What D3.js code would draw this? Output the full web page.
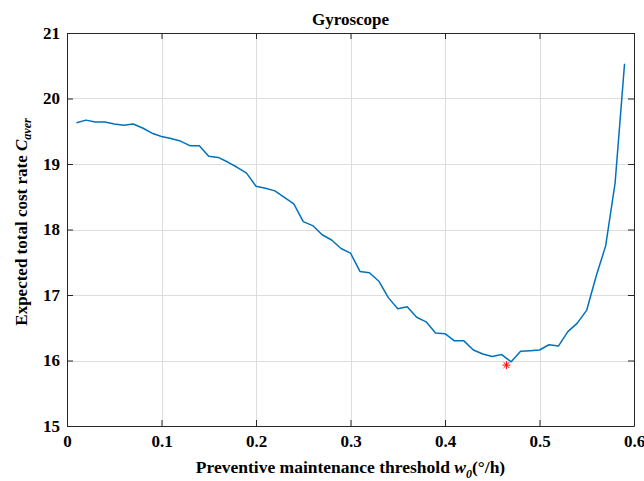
<!DOCTYPE html>
<html>
<head>
<meta charset="utf-8">
<script src="https://cdn.jsdelivr.net/npm/d3@7"></script>
<style>
  html, body { margin: 0; padding: 0; background: #fff; }
  svg { display: block; }
  .tick text { font-family: "Liberation Serif", "Times New Roman", serif; font-weight: bold; }
</style>
</head>
<body>
<svg id="chart" width="644" height="481"></svg>
<script>
// Preventive maintenance threshold w0 (°/h)
const thresholds = [0.01, 0.02, 0.03, 0.04, 0.05, 0.06, 0.07, 0.08, 0.09, 0.10,
                    0.11, 0.12, 0.13, 0.14, 0.15, 0.16, 0.17, 0.18, 0.19, 0.20,
                    0.21, 0.22, 0.23, 0.24, 0.25, 0.26, 0.27, 0.28, 0.29, 0.30,
                    0.31, 0.32, 0.33, 0.34, 0.35, 0.36, 0.37, 0.38, 0.39, 0.40,
                    0.41, 0.42, 0.43, 0.44, 0.45, 0.46, 0.47, 0.48, 0.49, 0.50,
                    0.51, 0.52, 0.53, 0.54, 0.55, 0.56, 0.57, 0.58, 0.59];
// Expected total cost rate C_aver
const costRates = [19.63, 19.67, 19.64, 19.64, 19.61, 19.59, 19.61, 19.55, 19.47, 19.42,
                   19.39, 19.35, 19.28, 19.28, 19.12, 19.10, 19.03, 18.95, 18.86, 18.66,
                   18.63, 18.59, 18.49, 18.39, 18.12, 18.06, 17.92, 17.84, 17.71, 17.64,
                   17.36, 17.34, 17.21, 16.96, 16.79, 16.82, 16.66, 16.59, 16.42, 16.41,
                   16.30, 16.30, 16.16, 16.10, 16.06, 16.09, 15.98, 16.14, 16.15, 16.16,
                   16.24, 16.22, 16.44, 16.57, 16.77, 17.29, 17.75, 18.71, 20.53];
// Optimal threshold marker
const optimumX = [0.465];
const optimumY = [15.93];

const xTicks = [0, 0.1, 0.2, 0.3, 0.4, 0.5, 0.6];
const yTicks = [15, 16, 17, 18, 19, 20, 21];

const svg = d3.select("#chart");
const plotLeft = 67, plotRight = 634, plotTop = 33, plotBottom = 426;
const x = d3.scaleLinear().domain([0, 0.6]).range([plotLeft, plotRight]);
const y = d3.scaleLinear().domain([15, 21]).range([plotBottom, plotTop]);

const axisColor = "#262626";
const gridColor = "#dedede";
const tickFont = 17;

// grid
const grid = svg.append("g");
grid.selectAll("line.gx").data(xTicks.slice(1, -1)).join("line")
  .attr("x1", d => Math.round(x(d)) + 0.5).attr("x2", d => Math.round(x(d)) + 0.5)
  .attr("y1", plotTop).attr("y2", plotBottom)
  .attr("stroke", gridColor).attr("stroke-width", 1);
grid.selectAll("line.gy").data(yTicks.slice(1, -1)).join("line")
  .attr("y1", d => Math.round(y(d)) + 0.5).attr("y2", d => Math.round(y(d)) + 0.5)
  .attr("x1", plotLeft).attr("x2", plotRight)
  .attr("stroke", gridColor).attr("stroke-width", 1);

// axes with inward ticks (box on all sides)
function styleAxis(g) {
  g.select(".domain").attr("stroke", axisColor).attr("stroke-width", 1);
  g.selectAll(".tick line").attr("stroke", axisColor).attr("stroke-width", 1);
  g.selectAll(".tick text").attr("fill", "#000").style("font-size", tickFont + "px");
}
svg.append("g").attr("transform", `translate(0,${plotBottom})`)
  .call(d3.axisBottom(x).tickValues(xTicks).tickSize(-6).tickSizeOuter(0).tickPadding(9).tickFormat(d3.format("")))
  .call(styleAxis);
svg.append("g").attr("transform", `translate(0,${plotTop})`)
  .call(d3.axisTop(x).tickValues(xTicks).tickSize(-6).tickSizeOuter(0).tickFormat(""))
  .call(styleAxis);
svg.append("g").attr("transform", `translate(${plotLeft},0)`)
  .call(d3.axisLeft(y).tickValues(yTicks).tickSize(-6).tickSizeOuter(0).tickPadding(7).tickFormat(d3.format("d")))
  .call(styleAxis);
svg.append("g").attr("transform", `translate(${plotRight},0)`)
  .call(d3.axisRight(y).tickValues(yTicks).tickSize(-6).tickSizeOuter(0).tickFormat(""))
  .call(styleAxis);

// cost-rate curve
const line = d3.line().x((d, i) => x(thresholds[i])).y(d => y(d));
svg.append("path").datum(costRates)
  .attr("d", line)
  .attr("fill", "none")
  .attr("stroke", "#0072BD")
  .attr("stroke-width", 1.5)
  .attr("stroke-linejoin", "round");

// asterisk marker at the optimum
const r = 4;
optimumX.forEach((ox, i) => {
  const cx = x(ox), cy = y(optimumY[i]);
  const p = d3.path();
  p.moveTo(cx, cy - r); p.lineTo(cx, cy + r);
  p.moveTo(cx - r, cy); p.lineTo(cx + r, cy);
  const dd = r * 0.72;
  p.moveTo(cx - dd, cy - dd); p.lineTo(cx + dd, cy + dd);
  p.moveTo(cx - dd, cy + dd); p.lineTo(cx + dd, cy - dd);
  svg.append("path").attr("d", p.toString())
    .attr("stroke", "#ff0000").attr("stroke-width", 1).attr("fill", "none");
});

const serif = "'Liberation Serif', 'Times New Roman', serif";

// title
svg.append("text")
  .attr("x", (plotLeft + plotRight) / 2).attr("y", 25)
  .attr("text-anchor", "middle")
  .style("font-family", serif).style("font-weight", "bold").style("font-size", "17px")
  .text("Gyroscope");

// x label
const xl = svg.append("text")
  .attr("x", (plotLeft + plotRight) / 2).attr("y", 473)
  .attr("text-anchor", "middle")
  .style("font-family", serif).style("font-weight", "bold").style("font-size", "17.5px");
xl.append("tspan").text("Preventive maintenance threshold ");
xl.append("tspan").style("font-style", "italic").text("w");
xl.append("tspan").style("font-style", "italic").style("font-size", "12px").attr("dy", 5).text("0");
xl.append("tspan").attr("dy", -5).text("(°/h)");

// y label
const yl = svg.append("text")
  .attr("transform", `translate(27,222) rotate(-90)`)
  .attr("text-anchor", "middle")
  .style("font-family", serif).style("font-weight", "bold").style("font-size", "17px");
yl.append("tspan").text("Expected total cost rate ");
yl.append("tspan").style("font-style", "italic").text("C");
yl.append("tspan").style("font-style", "italic").style("font-size", "12px").attr("dy", 4).text("aver");
</script>
</body>
</html>
